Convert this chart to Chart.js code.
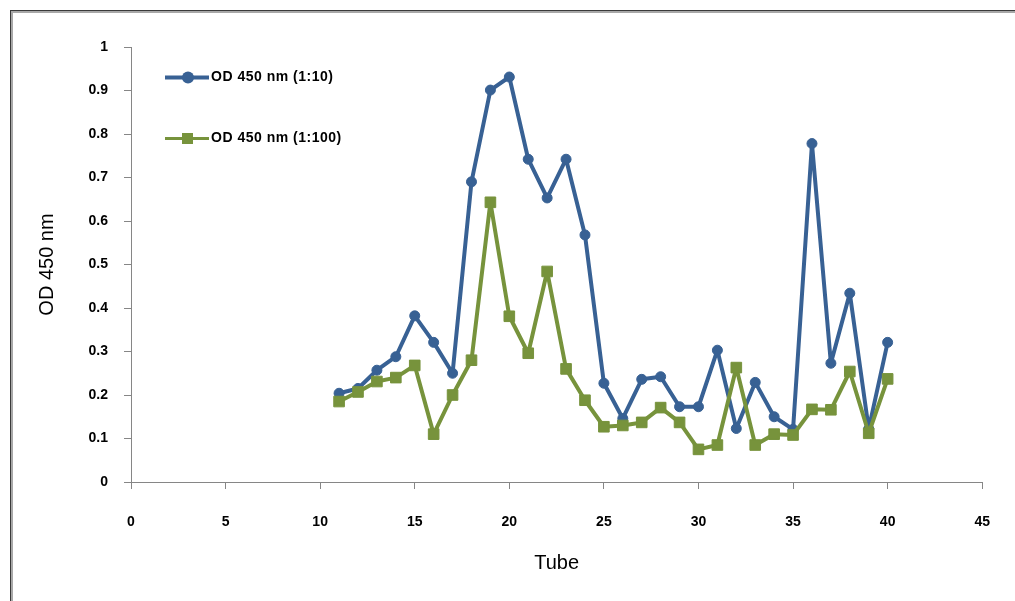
<!DOCTYPE html>
<html><head><meta charset="utf-8">
<script src="https://cdn.jsdelivr.net/npm/chart.js@4.4.0/dist/chart.umd.min.js"></script>
<style>
html,body{margin:0;padding:0;background:#fff;overflow:hidden;width:1015px;height:601px;}
#frame{position:absolute;left:10px;top:10px;width:1100px;height:700px;border:1px solid #3a3a3a;}
#frame2{position:absolute;left:11px;top:11px;width:1100px;height:700px;border:2px solid #a8a8a8;}
#wrap{position:absolute;left:0;top:0;width:1015px;height:601px;}
</style></head><body>
<div id="frame"></div><div id="frame2"></div>
<div id="wrap"><canvas id="c" width="1015" height="601"></canvas></div>
<script>
const tubes = [11,12,13,14,15,16,17,18,19,20,21,22,23,24,25,26,27,28,29,30,31,32,33,34,35,36,37,38,39,40];
const od_1_10 = [0.204,0.215,0.257,0.288,0.382,0.321,0.250,0.690,0.901,0.931,0.742,0.653,0.742,0.568,0.227,0.146,0.236,0.242,0.173,0.173,0.303,0.123,0.229,0.150,0.121,0.778,0.273,0.434,0.122,0.321];
const od_1_100 = [0.185,0.207,0.231,0.240,0.268,0.110,0.200,0.280,0.643,0.381,0.296,0.484,0.260,0.188,0.127,0.130,0.137,0.171,0.137,0.075,0.085,0.263,0.085,0.110,0.108,0.167,0.166,0.254,0.112,0.237];
const seriesNames = ['OD 450 nm (1:10)','OD 450 nm (1:100)'];
const xTicks = [0,5,10,15,20,25,30,35,40,45];
const yTicks = [0,0.1,0.2,0.3,0.4,0.5,0.6,0.7,0.8,0.9,1];
const xTitle = 'Tube';
const yTitle = 'OD 450 nm';

const BLUE = '#386194';
const GREEN = '#77933C';
const AXIS = '#868686';
const FONT = "'Liberation Sans', Arial, sans-serif";

const legendPlugin = {
  id: 'customLegend',
  afterDatasetsDraw(chart) {
    const ctx = chart.ctx;
    const items = [{y:77.5, lw:4}, {y:138.5, lw:3}];
    chart.data.datasets.forEach((ds, i) => {
      const it = items[i];
      ctx.save();
      ctx.strokeStyle = ds.borderColor;
      ctx.lineWidth = it.lw;
      ctx.beginPath();
      ctx.moveTo(165, it.y); ctx.lineTo(209, it.y);
      ctx.stroke();
      ctx.fillStyle = ds.pointBackgroundColor;
      if (ds.pointStyle === 'rect') {
        ctx.fillRect(182, it.y - 5.5, 11, 11);
      } else {
        ctx.beginPath(); ctx.arc(188, it.y, 6, 0, Math.PI*2); ctx.fill();
      }
      ctx.fillStyle = '#000';
      ctx.font = 'bold 14px ' + FONT;
      try { ctx.letterSpacing = '0.5px'; } catch(e) {}
      ctx.textBaseline = 'middle';
      ctx.textAlign = 'left';
      ctx.fillText(ds.label, 211, it.y);
      ctx.restore();
    });
  }
};

new Chart(document.getElementById('c'), {
  type: 'line',
  data: {
    datasets: [
      {
        label: seriesNames[0],
        order: 1,
        data: tubes.map((t, i) => ({x: t, y: od_1_10[i]})),
        borderColor: BLUE, backgroundColor: BLUE,
        pointBackgroundColor: BLUE, pointBorderColor: BLUE,
        borderWidth: 4, pointRadius: 5, pointBorderWidth: 1,
        borderJoinStyle: 'round', borderCapStyle: 'round',
        pointStyle: 'circle', tension: 0
      },
      {
        label: seriesNames[1],
        order: 0,
        data: tubes.map((t, i) => ({x: t, y: od_1_100[i]})),
        borderColor: GREEN, backgroundColor: GREEN,
        pointBackgroundColor: GREEN, pointBorderColor: GREEN,
        borderWidth: 4, pointRadius: 7.5, pointBorderWidth: 1,
        borderJoinStyle: 'round', borderCapStyle: 'round',
        pointStyle: 'rect', tension: 0
      }
    ]
  },
  options: {
    responsive: false,
    animation: false,
    events: [],
    layout: { padding: { left: 0, top: 47, right: 32, bottom: 0 } },
    plugins: { legend: { display: false }, tooltip: { enabled: false } },
    scales: {
      x: {
        type: 'linear', min: 0, max: 45,
        afterBuildTicks: s => { s.ticks = xTicks.map(v => ({value: v})); },
        afterFit: s => { s.height = 601 - 482; },
        ticks: { color: '#000', font: { family: FONT, size: 14, weight: 'bold' }, padding: 25, maxRotation: 0, autoSkip: false },
        grid: { display: true, drawOnChartArea: false, drawTicks: true, tickLength: 7, color: AXIS },
        border: { display: true, color: AXIS, width: 1 },
        title: { display: true, text: xTitle, color: '#000', font: { family: FONT, size: 20 }, padding: { top: 0, bottom: 26 } }
      },
      y: {
        type: 'linear', min: 0, max: 1,
        afterBuildTicks: s => { s.ticks = yTicks.map(v => ({value: v})); },
        afterFit: s => { s.width = 131; },
        ticks: { color: '#000', font: { family: FONT, size: 14, weight: 'bold' }, padding: 16, callback: v => String(Math.round(v*10)/10) },
        grid: { display: true, drawOnChartArea: false, drawTicks: true, tickLength: 7, color: AXIS },
        border: { display: true, color: AXIS, width: 1 },
        title: { display: true, text: yTitle, color: '#000', font: { family: FONT, size: 20 }, padding: { top: 35, bottom: 0 } }
      }
    }
  },
  plugins: [legendPlugin]
});
</script>
</body></html>
